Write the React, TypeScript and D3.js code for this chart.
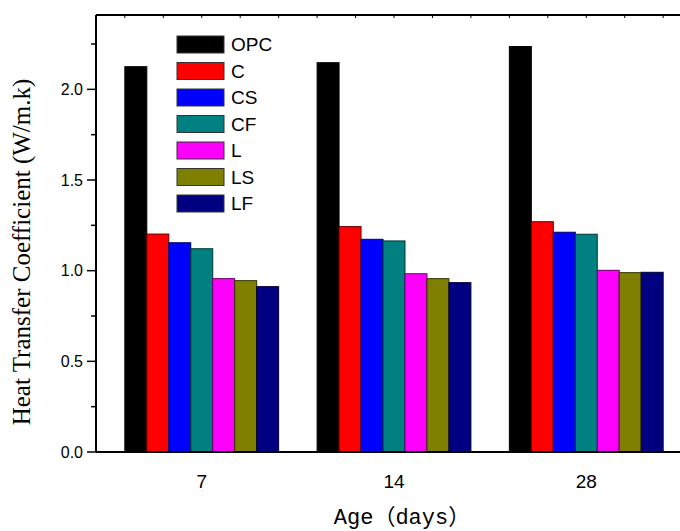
import * as React from "react";
import * as d3 from "d3";

const ages = ["7", "14", "28"];
const series = ["OPC", "C", "CS", "CF", "L", "LS", "LF"];
const colors = ["#000000", "#ff0000", "#0000ff", "#008080", "#ff00ff", "#808000", "#000080"];
const strokes = ["#000000", "#660000", "#000066", "#003333", "#660066", "#333300", "#000033"];

const OPC = [2.125, 2.147, 2.236];
const C = [1.202, 1.243, 1.27];
const CS = [1.154, 1.173, 1.212];
const CF = [1.121, 1.164, 1.201];
const L = [0.956, 0.983, 1.002];
const LS = [0.945, 0.956, 0.989];
const LF = [0.912, 0.934, 0.991];

const values = [OPC, C, CS, CF, L, LS, LF];
const yTicks = [0, 0.5, 1.0, 1.5, 2.0];

const App = () => {
  const width = 680;
  const height = 531;
  const left = 96, top = 15, bottom = 452, right = 692;

  // x axis is numeric in the original, groups sit at 1, 2, 3
  const x = d3.scaleLinear().domain([0.45, 3.55]).range([left, right]);
  const y = d3.scaleLinear().domain([0, 2.41]).range([bottom, top]);
  const inner = d3.scaleBand().domain(series).range([-0.4, 0.4]);
  const bw = x(inner.bandwidth()) - x(0);

  const minor = d3.range(0.25, 2.41, 0.5);
  const topTicks = x.ticks(15).filter(t => t > 0.5 && t < 3.5);

  return (
    <svg width={width} height={height} style={{ position: "absolute", left: 0, top: 0 }}>
      <rect width={width} height={height} fill="#fff" />
      {values.map((vals, si) =>
        vals.map((v, gi) => (
          <rect
            key={series[si] + gi}
            x={x(gi + 1 + inner(series[si]))}
            y={y(v)}
            width={bw}
            height={y(0) - y(v)}
            fill={colors[si]}
            stroke={strokes[si]}
            strokeWidth={1}
          />
        ))
      )}

      {/* frame */}
      <line x1={left} x2={left} y1={top} y2={bottom} stroke="#000" strokeWidth={2} />
      <line x1={left} x2={right} y1={bottom} y2={bottom} stroke="#000" strokeWidth={2} />
      <line x1={left} x2={right} y1={top} y2={top} stroke="#000" strokeWidth={2} />
      <line x1={right} x2={right} y1={top} y2={bottom} stroke="#000" strokeWidth={2} />

      {topTicks.map(t => (
        <line key={"tt" + t} x1={x(t)} x2={x(t)} y1={top} y2={top + 3} stroke="#000" strokeWidth={1} />
      ))}

      {yTicks.map(t => (
        <g key={"y" + t}>
          <line x1={left - 9} x2={left} y1={y(t)} y2={y(t)} stroke="#000" strokeWidth={1.5} />
          <text x={left - 13} y={y(t)} dy="0.36em" textAnchor="end" fontFamily="Liberation Sans, Arial" fontSize={16}>
            {t.toFixed(1)}
          </text>
        </g>
      ))}
      {minor.map(t => (
        <line key={"m" + t} x1={left - 5} x2={left} y1={y(t)} y2={y(t)} stroke="#000" strokeWidth={1.5} />
      ))}

      {ages.map((a, i) => (
        <text key={a} x={x(i + 1)} y={488} textAnchor="middle" fontFamily="Liberation Sans, Arial" fontSize={19}>
          {a}
        </text>
      ))}

      <text x={402} y={524} textAnchor="middle" fontFamily="Liberation Mono, Noto Sans CJK SC" fontSize={22}>
        Age（days）
      </text>
      <text
        transform="translate(30,252) rotate(-90)"
        textAnchor="middle"
        fontFamily="Liberation Serif, Times New Roman"
        fontSize={25}
      >
        Heat Transfer Coefficient (W/m.k)
      </text>

      {series.map((s, i) => (
        <g key={"lg" + s} transform={`translate(177,${36 + i * 26.5})`}>
          <rect width={47} height={17} fill={colors[i]} stroke="#333" strokeWidth={1} />
          <text x={54} y={8.5} dy="0.36em" fontFamily="Liberation Sans, Arial" fontSize={19}>
            {s}
          </text>
        </g>
      ))}
    </svg>
  );
};

export default App;
